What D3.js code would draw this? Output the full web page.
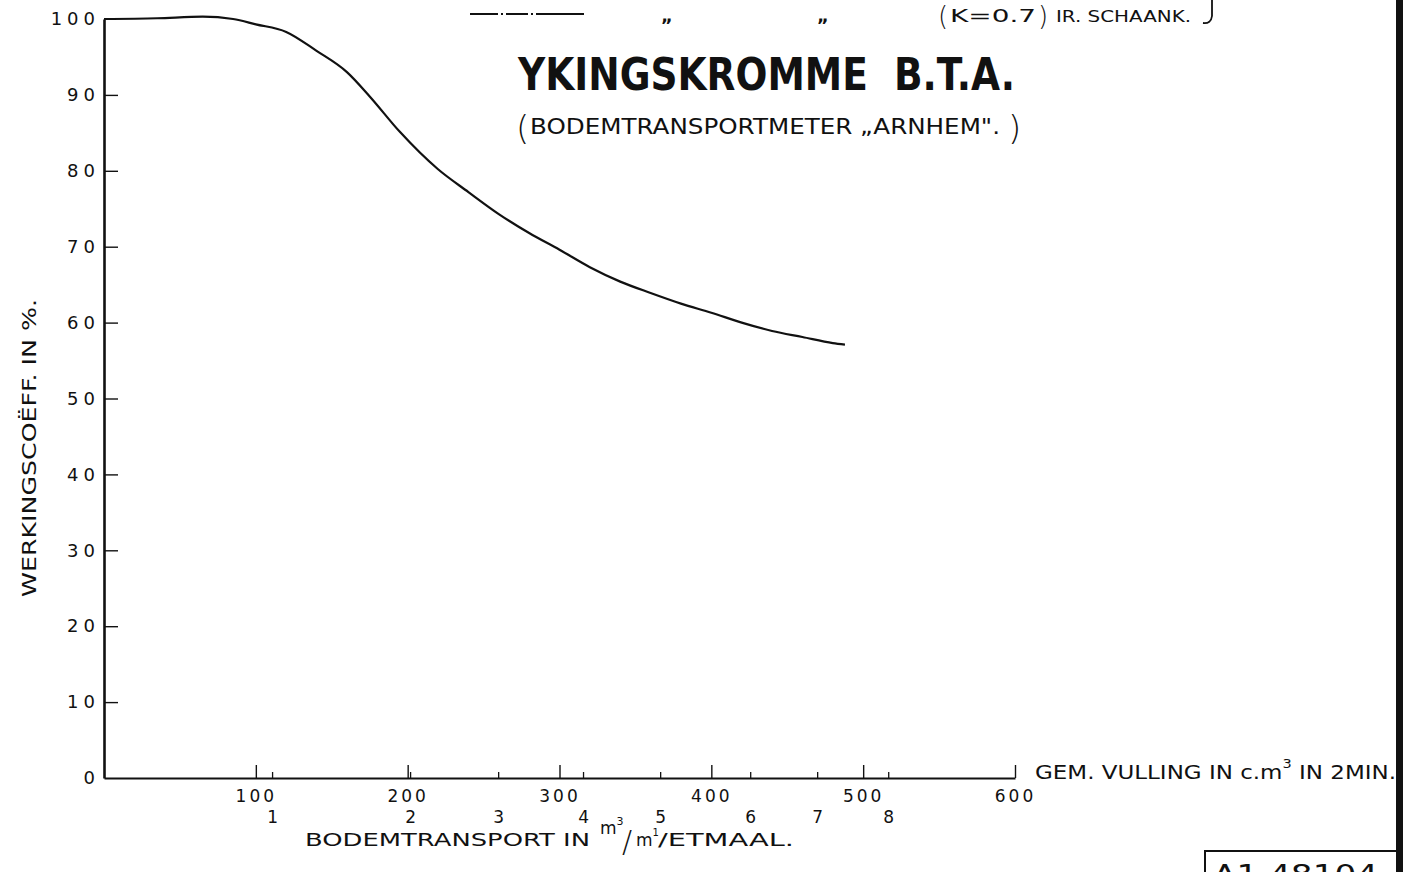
<!DOCTYPE html>
<html>
<head>
<meta charset="utf-8">
<script src="https://cdn.jsdelivr.net/npm/d3@7"></script>
<style>
  html, body { margin: 0; padding: 0; background: #fff; }
  svg { display: block; }
  text { font-family: "DejaVu Sans", sans-serif; fill: #111; }
</style>
</head>
<body>
<svg id="chart" width="1411" height="872"></svg>
<script>
// Efficiency curve of the bed-load meter: filling (cm³ per 2 min) vs efficiency (%)
const fillValues  = [0, 35, 65, 85, 100, 120, 140, 160, 175, 195, 220, 240, 260, 280, 300, 320, 340, 360, 380, 400, 420, 440, 460, 480, 488];
const efficiency  = [100, 100.1, 100.3, 100, 99.3, 98.3, 95.8, 93, 89.8, 85.1, 80.2, 77.2, 74.3, 71.8, 69.6, 67.3, 65.4, 63.9, 62.5, 61.3, 60, 58.9, 58.1, 57.3, 57.1];

// Axis ticks
const fillTicks       = [100, 200, 300, 400, 500, 600];
const efficiencyTicks = [0, 10, 20, 30, 40, 50, 60, 70, 80, 90, 100];

// Secondary scale: bed-load transport (m³/m¹/etmaal) placed along the filling axis
const transportLabels = ["1", "2", "3", "4", "5", "6", "7", "8"];
const transportAt     = [110.7, 201.6, 259.6, 315.5, 366.3, 425.6, 469.7, 516.5];

const svg = d3.select("#chart");

const x = d3.scaleLinear().domain([0, 600]).range([104, 1015]);
const y = d3.scaleLinear().domain([0, 100]).range([778, 19]);

// ---- Y axis ----
const yAxis = svg.append("g")
  .attr("transform", "translate(104,0)")
  .call(d3.axisLeft(y).tickValues(efficiencyTicks).tickSizeInner(-14).tickSizeOuter(0).tickPadding(4)
    .tickFormat(d => String(d)));
yAxis.select(".domain").attr("stroke", "#111").attr("stroke-width", 2.6);
yAxis.selectAll(".tick line").attr("stroke", "#111").attr("stroke-width", 1.4)
  .filter(d => d === 0 || d === 100).remove();
yAxis.selectAll(".tick text")
  .attr("font-size", 18).attr("letter-spacing", "5px").attr("fill", "#111")
  .style("font-family", "'DejaVu Sans', sans-serif");

// ---- X axis (filling) ----
const xAxis = svg.append("g")
  .attr("transform", "translate(0,778)")
  .call(d3.axisBottom(x).tickValues(fillTicks).tickSizeInner(-13).tickSizeOuter(0).tickPadding(12)
    .tickFormat(d => String(d)));
xAxis.select(".domain").attr("stroke", "#111").attr("stroke-width", 2);
xAxis.selectAll(".tick line").attr("stroke", "#111").attr("stroke-width", 1.4);
xAxis.selectAll(".tick text")
  .attr("font-size", 17).attr("letter-spacing", "3px").attr("fill", "#111")
  .style("font-family", "'DejaVu Sans', sans-serif");

// ---- Secondary transport scale ----
const tAxis = svg.append("g")
  .attr("transform", "translate(0,778)")
  .call(d3.axisBottom(x).tickValues(transportAt).tickSizeInner(-6).tickSizeOuter(0).tickPadding(33)
    .tickFormat((d, i) => transportLabels[i]));
tAxis.select(".domain").remove();
tAxis.selectAll(".tick line").attr("stroke", "#111").attr("stroke-width", 1.3);
tAxis.selectAll(".tick text")
  .attr("font-size", 17).attr("fill", "#111")
  .style("font-family", "'DejaVu Sans', sans-serif");

// ---- Curve ----
const pts = fillValues.map((v, i) => [v, efficiency[i]]);
svg.append("path")
  .datum(pts)
  .attr("fill", "none")
  .attr("stroke", "#111")
  .attr("stroke-width", 2.2)
  .attr("stroke-linejoin", "round")
  .attr("d", d3.line().x(d => x(d[0])).y(d => y(d[1])).curve(d3.curveMonotoneX));

// ---- Titles ----
svg.append("text")
  .attr("x", 518).attr("y", 90)
  .attr("font-size", 44).attr("font-weight", "bold")
  .attr("textLength", 497).attr("lengthAdjust", "spacingAndGlyphs")
  .style("white-space", "pre")
  .text("YKINGSKROMME  B.T.A.");

svg.append("text").attr("x", 516).attr("y", 140).attr("font-size", 34).attr("font-weight", 300).text("(");
svg.append("text")
  .attr("x", 530).attr("y", 134)
  .attr("font-size", 22)
  .attr("textLength", 470).attr("lengthAdjust", "spacingAndGlyphs")
  .style("white-space", "pre")
  .text("BODEMTRANSPORTMETER „ARNHEM\".");
svg.append("text").attr("x", 1008).attr("y", 140).attr("font-size", 34).attr("font-weight", 300).text(")");

// ---- Y axis title ----
svg.append("text")
  .attr("transform", "translate(36,597) rotate(-90)")
  .attr("font-size", 20)
  .attr("textLength", 298).attr("lengthAdjust", "spacingAndGlyphs")
  .text("WERKINGSCOËFF. IN %.");

// ---- X axis titles ----
const gem = svg.append("text")
  .attr("x", 1035).attr("y", 779)
  .attr("font-size", 19)
  .attr("textLength", 361).attr("lengthAdjust", "spacingAndGlyphs");
gem.append("tspan").text("GEM. VULLING IN c.m");
gem.append("tspan").attr("dy", -11).attr("font-size", 12).text("3");
gem.append("tspan").attr("dy", 11).text(" IN 2MIN.");

svg.append("text")
  .attr("x", 305).attr("y", 846)
  .attr("font-size", 17)
  .attr("textLength", 285).attr("lengthAdjust", "spacingAndGlyphs")
  .text("BODEMTRANSPORT IN");

// unit m³/m¹/etmaal written as a stacked fraction
const num = svg.append("text").attr("x", 600).attr("y", 834).attr("font-size", 17);
num.append("tspan").text("m");
num.append("tspan").attr("dy", -9).attr("font-size", 11).text("3");
svg.append("text").attr("x", 622).attr("y", 852).attr("font-size", 30).attr("font-weight", 300).text("/");
const den = svg.append("text").attr("x", 636).attr("y", 846).attr("font-size", 17);
den.append("tspan").text("m");
den.append("tspan").attr("dy", -10).attr("font-size", 10).text("1");
svg.append("text")
  .attr("x", 658).attr("y", 846)
  .attr("font-size", 17)
  .attr("textLength", 136).attr("lengthAdjust", "spacingAndGlyphs")
  .text("/ETMAAL.");

// ---- Header line: legend sample and annotation ----
svg.append("line")
  .attr("x1", 470).attr("x2", 585).attr("y1", 14).attr("y2", 14)
  .attr("stroke", "#111").attr("stroke-width", 1.8)
  .attr("stroke-dasharray", "28 3 2 3 22 3 2 3 48");
svg.append("text").attr("x", 661).attr("y", 22).attr("font-size", 18).attr("font-weight", "bold").text("„");
svg.append("text").attr("x", 817).attr("y", 22).attr("font-size", 18).attr("font-weight", "bold").text("„");
svg.append("text").attr("x", 938).attr("y", 25).attr("font-size", 26).attr("font-weight", 300).text("(");
svg.append("text")
  .attr("x", 950).attr("y", 22).attr("font-size", 18)
  .attr("textLength", 86).attr("lengthAdjust", "spacingAndGlyphs")
  .text("K=0.7");
svg.append("text").attr("x", 1038).attr("y", 25).attr("font-size", 26).attr("font-weight", 300).text(")");
svg.append("text")
  .attr("x", 1056).attr("y", 22).attr("font-size", 15)
  .attr("textLength", 135).attr("lengthAdjust", "spacingAndGlyphs")
  .text("IR. SCHAANK.");
svg.append("path")
  .attr("d", "M1212,0 L1212,16 Q1211,24 1203,23")
  .attr("fill", "none").attr("stroke", "#111").attr("stroke-width", 1.8);

// ---- Sheet border and drawing number box ----
svg.append("rect").attr("x", 1396).attr("y", 0).attr("width", 7).attr("height", 872).attr("fill", "#111");
svg.append("path")
  .attr("d", "M1205,872 L1205,851 L1398,851")
  .attr("fill", "none").attr("stroke", "#111").attr("stroke-width", 2);
svg.append("text")
  .attr("x", 1213).attr("y", 884).attr("font-size", 26)
  .attr("textLength", 165).attr("lengthAdjust", "spacingAndGlyphs")
  .style("white-space", "pre")
  .text("A1 48104");
</script>
</body>
</html>
